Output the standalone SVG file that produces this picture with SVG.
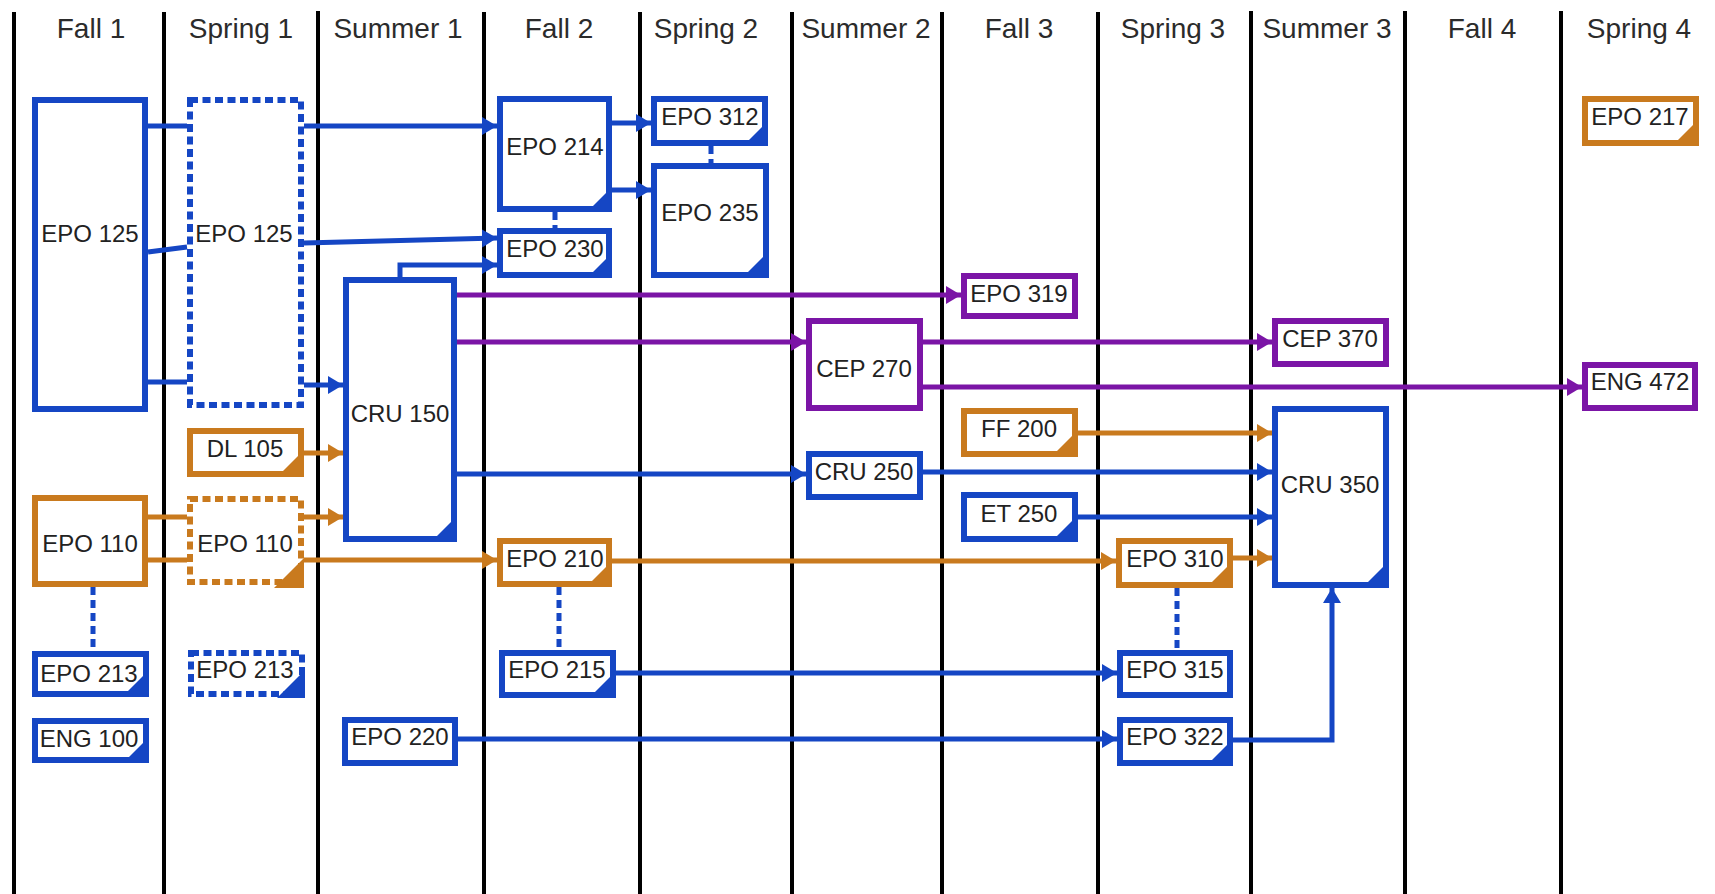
<svg xmlns="http://www.w3.org/2000/svg" width="1715" height="894" viewBox="0 0 1715 894">
<style>
.hdr{font-family:"Liberation Sans",Arial,sans-serif;font-size:28px;fill:#2b2b2b;text-anchor:middle}
.lbl{font-family:"Liberation Sans",Arial,sans-serif;font-size:24px;fill:#222;text-anchor:middle}
.vl{stroke:#000;stroke-width:4}
.box{fill:#fff;stroke-width:6}
.dash{stroke-dasharray:8 4.5}
.b{stroke:#1546c4}
.o{stroke:#c97a1e}
.p{stroke:#7b15a6}
.tb{fill:#1546c4}
.to{fill:#c97a1e}
.c{fill:none;stroke-width:5}
.cd{fill:none;stroke-width:5;stroke-dasharray:8 5}
</style>
<defs>
<marker id="ab" markerUnits="userSpaceOnUse" markerWidth="17" markerHeight="19" refX="15" refY="9" orient="auto"><path d="M0,0 L15,9 L0,18 Z" fill="#1546c4"/></marker>
<marker id="ao" markerUnits="userSpaceOnUse" markerWidth="17" markerHeight="19" refX="15" refY="9" orient="auto"><path d="M0,0 L15,9 L0,18 Z" fill="#c97a1e"/></marker>
<marker id="ap" markerUnits="userSpaceOnUse" markerWidth="17" markerHeight="19" refX="15" refY="9" orient="auto"><path d="M0,0 L15,9 L0,18 Z" fill="#7b15a6"/></marker>
</defs>
<rect width="1715" height="894" fill="#fff"/>
<g id="grid">
<line class="vl" x1="14" y1="12" x2="14" y2="894"/>
<line class="vl" x1="164" y1="12" x2="164" y2="894"/>
<line class="vl" x1="318" y1="11" x2="318" y2="894"/>
<line class="vl" x1="484" y1="12" x2="484" y2="894"/>
<line class="vl" x1="640" y1="12" x2="640" y2="894"/>
<line class="vl" x1="792" y1="12" x2="792" y2="894"/>
<line class="vl" x1="942" y1="12" x2="942" y2="894"/>
<line class="vl" x1="1098" y1="12" x2="1098" y2="894"/>
<line class="vl" x1="1251" y1="11" x2="1251" y2="894"/>
<line class="vl" x1="1405" y1="11" x2="1405" y2="894"/>
<line class="vl" x1="1561" y1="11" x2="1561" y2="894"/>
</g>
<g id="headers">
<text class="hdr" x="91" y="38">Fall 1</text>
<text class="hdr" x="241" y="38">Spring 1</text>
<text class="hdr" x="398" y="38">Summer 1</text>
<text class="hdr" x="559" y="38">Fall 2</text>
<text class="hdr" x="706" y="38">Spring 2</text>
<text class="hdr" x="866" y="38">Summer 2</text>
<text class="hdr" x="1019" y="38">Fall 3</text>
<text class="hdr" x="1173" y="38">Spring 3</text>
<text class="hdr" x="1327" y="38">Summer 3</text>
<text class="hdr" x="1482" y="38">Fall 4</text>
<text class="hdr" x="1639" y="38">Spring 4</text>
</g>
<g id="connectors">
<line class="c b" x1="148" y1="126" x2="187" y2="126"/>
<line class="c b" x1="148" y1="252" x2="187" y2="247"/>
<line class="c b" x1="148" y1="382" x2="187" y2="382"/>
<line class="c b" x1="304" y1="126" x2="497" y2="126" marker-end="url(#ab)"/>
<line class="c b" x1="304" y1="243" x2="497" y2="238" marker-end="url(#ab)"/>
<line class="c b" x1="304" y1="385" x2="343" y2="385" marker-end="url(#ab)"/>
<polyline class="c b" points="400,278 400,265 497,265" marker-end="url(#ab)"/>
<line class="c b" x1="612" y1="123" x2="651" y2="123" marker-end="url(#ab)"/>
<line class="c b" x1="612" y1="190" x2="651" y2="190" marker-end="url(#ab)"/>
<line class="c b" x1="457" y1="474" x2="806" y2="474" marker-end="url(#ab)"/>
<line class="c b" x1="923" y1="472" x2="1272" y2="472" marker-end="url(#ab)"/>
<line class="c b" x1="1078" y1="517" x2="1272" y2="517" marker-end="url(#ab)"/>
<line class="c b" x1="616" y1="673" x2="1117" y2="673" marker-end="url(#ab)"/>
<line class="c b" x1="458" y1="739" x2="1117" y2="739" marker-end="url(#ab)"/>
<polyline class="c b" points="1233,740 1332,740 1332,588" marker-end="url(#ab)"/>
<line class="cd b" x1="555" y1="212" x2="555" y2="228"/>
<line class="cd b" x1="711" y1="146" x2="711" y2="163"/>
<line class="cd b" x1="93" y1="587" x2="93" y2="651"/>
<line class="cd b" x1="559" y1="587" x2="559" y2="650"/>
<line class="cd b" x1="1177" y1="588" x2="1177" y2="650"/>
<line class="c o" x1="148" y1="517" x2="187" y2="517"/>
<line class="c o" x1="148" y1="560" x2="187" y2="560"/>
<line class="c o" x1="304" y1="453" x2="343" y2="453" marker-end="url(#ao)"/>
<line class="c o" x1="304" y1="517" x2="343" y2="517" marker-end="url(#ao)"/>
<line class="c o" x1="304" y1="560" x2="497" y2="560" marker-end="url(#ao)"/>
<line class="c o" x1="612" y1="561" x2="1116" y2="561" marker-end="url(#ao)"/>
<line class="c o" x1="1078" y1="433" x2="1272" y2="433" marker-end="url(#ao)"/>
<line class="c o" x1="1233" y1="558" x2="1272" y2="558" marker-end="url(#ao)"/>
<line class="c p" x1="457" y1="295" x2="961" y2="295" marker-end="url(#ap)"/>
<line class="c p" x1="457" y1="342" x2="806" y2="342" marker-end="url(#ap)"/>
<line class="c p" x1="923" y1="342" x2="1272" y2="342" marker-end="url(#ap)"/>
<line class="c p" x1="923" y1="387" x2="1582" y2="387" marker-end="url(#ap)"/>
</g>
<g id="epo125a"><rect class="box b" x="35" y="100" width="110" height="309"/><text class="lbl" x="90" y="242">EPO 125</text></g>
<g id="epo125b"><rect class="box b dash" x="190" y="100" width="111" height="305"/><text class="lbl" x="244" y="242">EPO 125</text></g>
<g id="dl105"><rect class="box o" x="190" y="431" width="111" height="43"/><polygon class="to" points="277,477 304,450 304,477"/><text class="lbl" x="245" y="457">DL 105</text></g>
<g id="epo110a"><rect class="box o" x="35" y="498" width="110" height="86"/><text class="lbl" x="90" y="552">EPO 110</text></g>
<g id="epo110b"><rect class="box o dash" x="190" y="499" width="111" height="83"/><polygon class="to" points="274,588 304,558 304,588"/><text class="lbl" x="245" y="552">EPO 110</text></g>
<g id="epo213a"><rect class="box b" x="35" y="654" width="111" height="40"/><polygon class="tb" points="122,697 149,670 149,697"/><text class="lbl" x="89" y="682">EPO 213</text></g>
<g id="epo213b"><rect class="box b dash" x="191" y="653" width="111" height="41"/><polygon class="tb" points="277,698 305,670 305,698"/><text class="lbl" x="245" y="678">EPO 213</text></g>
<g id="eng100"><rect class="box b" x="35" y="721" width="111" height="39"/><polygon class="tb" points="123,763 149,737 149,763"/><text class="lbl" x="89" y="747">ENG 100</text></g>
<g id="cru150"><rect class="box b" x="346" y="280" width="108" height="259"/><polygon class="tb" points="431,542 457,516 457,542"/><text class="lbl" x="400" y="422">CRU 150</text></g>
<g id="epo220"><rect class="box b" x="345" y="720" width="110" height="43"/><text class="lbl" x="400" y="745">EPO 220</text></g>
<g id="epo214"><rect class="box b" x="500" y="99" width="109" height="110"/><polygon class="tb" points="587,212 612,187 612,212"/><text class="lbl" x="555" y="155">EPO 214</text></g>
<g id="epo230"><rect class="box b" x="500" y="231" width="109" height="44"/><polygon class="tb" points="587,278 612,253 612,278"/><text class="lbl" x="555" y="257">EPO 230</text></g>
<g id="epo210"><rect class="box o" x="500" y="541" width="109" height="43"/><polygon class="to" points="586,587 612,561 612,587"/><text class="lbl" x="555" y="567">EPO 210</text></g>
<g id="epo215"><rect class="box b" x="502" y="653" width="111" height="42"/><polygon class="tb" points="589,698 616,671 616,698"/><text class="lbl" x="557" y="678">EPO 215</text></g>
<g id="epo312"><rect class="box b" x="654" y="99" width="111" height="44"/><polygon class="tb" points="743,146 768,121 768,146"/><text class="lbl" x="710" y="125">EPO 312</text></g>
<g id="epo235"><rect class="box b" x="654" y="166" width="112" height="109"/><polygon class="tb" points="742,278 769,251 769,278"/><text class="lbl" x="710" y="221">EPO 235</text></g>
<g id="cep270"><rect class="box p" x="809" y="321" width="111" height="87"/><text class="lbl" x="864" y="377">CEP 270</text></g>
<g id="cru250"><rect class="box b" x="809" y="454" width="111" height="43"/><text class="lbl" x="864" y="480">CRU 250</text></g>
<g id="epo319"><rect class="box p" x="964" y="276" width="111" height="40"/><text class="lbl" x="1019" y="302">EPO 319</text></g>
<g id="ff200"><rect class="box o" x="964" y="411" width="111" height="43"/><polygon class="to" points="1051,457 1078,430 1078,457"/><text class="lbl" x="1019" y="437">FF 200</text></g>
<g id="et250"><rect class="box b" x="964" y="495" width="111" height="44"/><polygon class="tb" points="1051,542 1078,515 1078,542"/><text class="lbl" x="1019" y="522">ET 250</text></g>
<g id="epo310"><rect class="box o" x="1119" y="541" width="111" height="44"/><polygon class="to" points="1206,588 1233,561 1233,588"/><text class="lbl" x="1175" y="567">EPO 310</text></g>
<g id="epo315"><rect class="box b" x="1120" y="653" width="110" height="42"/><text class="lbl" x="1175" y="678">EPO 315</text></g>
<g id="epo322"><rect class="box b" x="1120" y="720" width="110" height="43"/><polygon class="tb" points="1206,766 1233,739 1233,766"/><text class="lbl" x="1175" y="745">EPO 322</text></g>
<g id="cep370"><rect class="box p" x="1275" y="321" width="111" height="43"/><text class="lbl" x="1330" y="347">CEP 370</text></g>
<g id="cru350"><rect class="box b" x="1275" y="409" width="111" height="176"/><polygon class="tb" points="1362,588 1389,561 1389,588"/><text class="lbl" x="1330" y="493">CRU 350</text></g>
<g id="eng472"><rect class="box p" x="1585" y="365" width="110" height="43"/><text class="lbl" x="1640" y="390">ENG 472</text></g>
<g id="epo217"><rect class="box o" x="1585" y="99" width="111" height="44"/><polygon class="to" points="1672,146 1699,119 1699,146"/><text class="lbl" x="1640" y="125">EPO 217</text></g>
</svg>
